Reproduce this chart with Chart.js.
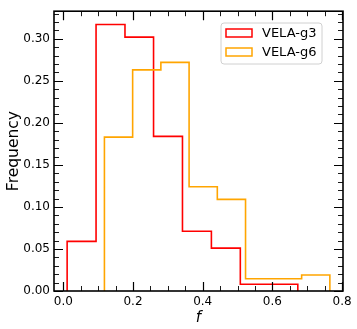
<!DOCTYPE html>
<html>
<head>
<meta charset="utf-8">
<script src="https://cdn.jsdelivr.net/npm/chart.js@4/dist/chart.umd.min.js"></script>
<style>
  html, body { margin: 0; padding: 0; background: #ffffff; }
  #wrap { width: 357px; height: 329px; }
</style>
</head>
<body>
<div id="wrap"><canvas id="c" width="357" height="329"></canvas></div>
<script>
// ---- data ----
const seriesNames = ['VELA-g3', 'VELA-g6'];
const g3Edges = [0.011, 0.094, 0.177, 0.259, 0.342, 0.425, 0.508, 0.590, 0.673];
const g3Freq  = [0.059, 0.317, 0.302, 0.184, 0.071, 0.051, 0.008, 0.008];
const g6Edges = [0.118, 0.199, 0.280, 0.361, 0.442, 0.523, 0.604, 0.684, 0.765];
const g6Freq  = [0.183, 0.263, 0.272, 0.124, 0.109, 0.0145, 0.0145, 0.019];
const xTickValues = [0.0, 0.2, 0.4, 0.6, 0.8];
const yTickValues = [0.00, 0.05, 0.10, 0.15, 0.20, 0.25, 0.30];
const xLabel = 'f';
const yLabel = 'Frequency';

const FONT = "'DejaVu Sans', sans-serif";

function stepPoints(edges, vals) {
  const pts = [{x: edges[0], y: 0}];
  for (let i = 0; i < vals.length; i++) {
    pts.push({x: edges[i], y: vals[i]});
    pts.push({x: edges[i + 1], y: vals[i]});
  }
  pts.push({x: edges[edges.length - 1], y: 0});
  return pts;
}

const colors = ['#ff0000', '#ffa500'];

const frameTicks = {
  id: 'frameTicks',
  afterDatasetsDraw(chart) {
    const ctx = chart.ctx, a = chart.chartArea;
    const xs = chart.scales.x, ys = chart.scales.y;
    ctx.save();
    ctx.strokeStyle = '#000';
    // x ticks
    const xMinor = [];
    for (let v = -0.05; v <= 0.85; v += 0.05) xMinor.push(Math.round(v * 100) / 100);
    xMinor.forEach(v => {
      if (v < xs.min || v > xs.max) return;
      const major = xTickValues.some(t => Math.abs(t - v) < 1e-6);
      const len = major ? 9 : 5;
      const px = Math.round(xs.getPixelForValue(v)) + 0.5;
      ctx.lineWidth = major ? 1.2 : 0.9;
      ctx.beginPath();
      ctx.moveTo(px, a.bottom); ctx.lineTo(px, a.bottom - len);
      ctx.moveTo(px, a.top); ctx.lineTo(px, a.top + len);
      ctx.stroke();
    });
    // y ticks
    for (let k = 0; k <= 40; k++) {
      const v = k / 100;
      if (v < ys.min || v > ys.max) continue;
      const major = k % 5 === 0;
      const len = major ? 9 : 5;
      const py = Math.round(ys.getPixelForValue(v)) + 0.5;
      ctx.lineWidth = major ? 1.2 : 0.9;
      ctx.beginPath();
      ctx.moveTo(a.left, py); ctx.lineTo(a.left + len, py);
      ctx.moveTo(a.right, py); ctx.lineTo(a.right - len, py);
      ctx.stroke();
    }
    // spines
    ctx.lineWidth = 1.6;
    ctx.strokeRect(a.left, a.top, a.right - a.left, a.bottom - a.top);

    // legend
    const bx = 221, by = 23, bw = 101, bh = 41, r = 3;
    ctx.beginPath();
    ctx.moveTo(bx + r, by);
    ctx.lineTo(bx + bw - r, by); ctx.quadraticCurveTo(bx + bw, by, bx + bw, by + r);
    ctx.lineTo(bx + bw, by + bh - r); ctx.quadraticCurveTo(bx + bw, by + bh, bx + bw - r, by + bh);
    ctx.lineTo(bx + r, by + bh); ctx.quadraticCurveTo(bx, by + bh, bx, by + bh - r);
    ctx.lineTo(bx, by + r); ctx.quadraticCurveTo(bx, by, bx + r, by);
    ctx.closePath();
    ctx.fillStyle = 'rgba(255,255,255,0.8)';
    ctx.fill();
    ctx.strokeStyle = '#d0d0d0';
    ctx.lineWidth = 1;
    ctx.stroke();
    chart.data.datasets.forEach((ds, i) => {
      const cy = 33 + i * 19;
      ctx.strokeStyle = ds.borderColor;
      ctx.lineWidth = 1.5;
      ctx.strokeRect(226, cy - 4, 26, 8);
      ctx.fillStyle = '#000';
      ctx.font = '13px ' + FONT;
      ctx.textBaseline = 'middle';
      ctx.textAlign = 'left';
      ctx.fillText(ds.label, 262, cy + 0.5);
    });
    ctx.restore();
  }
};

new Chart(document.getElementById('c'), {
  type: 'line',
  data: {
    datasets: [
      { label: seriesNames[0], data: stepPoints(g3Edges, g3Freq), borderColor: colors[0], order: 1 },
      { label: seriesNames[1], data: stepPoints(g6Edges, g6Freq), borderColor: colors[1], order: 0 }
    ]
  },
  options: {
    responsive: false,
    devicePixelRatio: 1,
    animation: false,
    layout: { padding: { left: 0, right: 14, top: 5, bottom: 0 } },
    elements: {
      line: { borderWidth: 1.6, tension: 0, fill: false, borderJoinStyle: 'miter', borderCapStyle: 'butt' },
      point: { radius: 0, hoverRadius: 0 }
    },
    plugins: { legend: { display: false }, tooltip: { enabled: false } },
    scales: {
      x: {
        type: 'linear',
        min: -0.0267, max: 0.8027,
        afterBuildTicks: s => { s.ticks = xTickValues.map(v => ({value: v})); },
        afterFit: s => { s.height = 38; },
        grid: { display: false, drawTicks: false },
        border: { display: false },
        ticks: {
          color: '#000', padding: 4, maxRotation: 0, autoSkip: false,
          font: { family: FONT, size: 12 },
          callback: v => Number(v).toFixed(1)
        },
        title: { display: true, text: xLabel, color: '#000', padding: { top: 0, bottom: 2 },
                 font: { family: FONT, size: 15, style: 'italic' } }
      },
      y: {
        type: 'linear',
        min: 0, max: 0.33285,
        afterBuildTicks: s => { s.ticks = yTickValues.map(v => ({value: v})); },
        afterFit: s => { s.width = 54; },
        grid: { display: false, drawTicks: false },
        border: { display: false },
        ticks: {
          color: '#000', padding: 4, autoSkip: false,
          font: { family: FONT, size: 12 },
          callback: v => Number(v).toFixed(2)
        },
        title: { display: true, text: yLabel, color: '#000', padding: { top: 5, bottom: 0 },
                 font: { family: FONT, size: 15.5 } }
      }
    }
  },
  plugins: [frameTicks]
});
</script>
</body>
</html>
